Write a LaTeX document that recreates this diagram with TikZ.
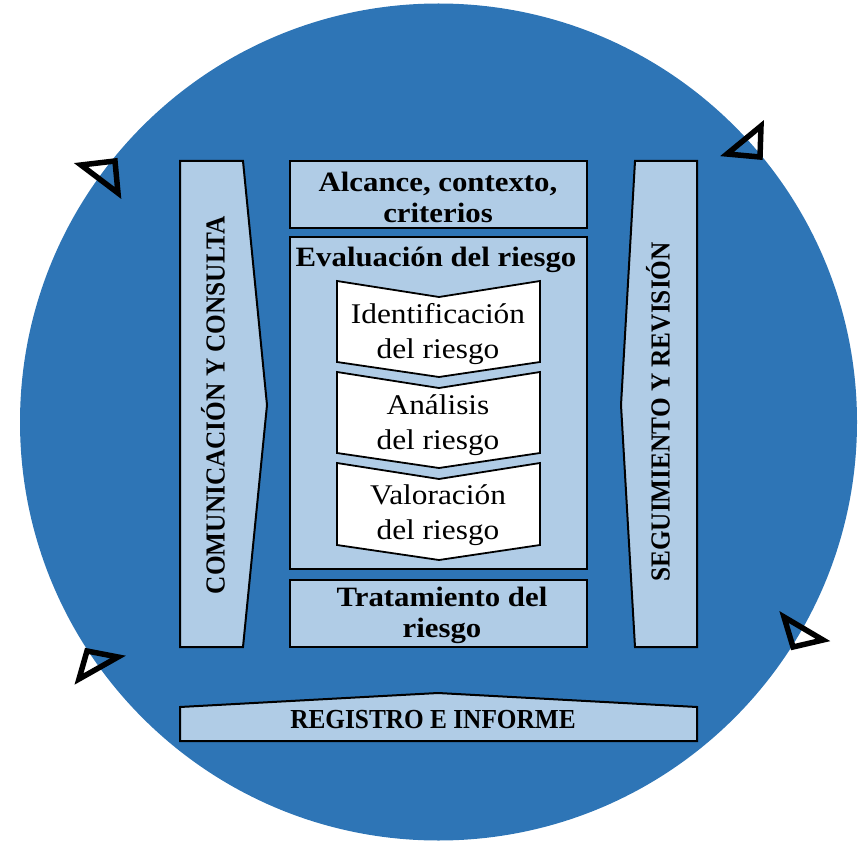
\documentclass[tikz,border=0pt]{standalone}
\usepackage{fontspec}
\setmainfont{Liberation Serif}
\newfontfamily\widefont[FakeStretch=1.1]{Liberation Serif}
\newfontfamily\narrowfont[FakeStretch=0.92]{Liberation Serif}
\definecolor{circblue}{RGB}{46,117,182}
\definecolor{lightblue}{RGB}{176,204,230}
\begin{document}
\begin{tikzpicture}[x=1pt,y=-1pt,
  box/.style={fill=lightblue,draw=black,line width=2pt,line join=miter},
  chev/.style={fill=white,draw=black,line width=1.8pt,line join=miter},
  tri/.style={draw=black,line width=5.5pt,line join=miter},
  midbold/.style={font=\widefont\bfseries\fontsize{28}{31}\selectfont,align=center,inner sep=0pt},
  midnorm/.style={font=\widefont\fontsize{28.5}{35}\selectfont,align=center,inner sep=0pt},
  capbold/.style={font=\narrowfont\bfseries\fontsize{27.5}{30}\selectfont,inner sep=0pt}]
\useasboundingbox (0,0) rectangle (867,842);
% big circle
\fill[circblue] (438.5,422) circle [radius=418.5pt];
% arrowhead triangles
\draw[tri] (81,165) -- (115,161) -- (118,193) -- cycle;
\draw[tri] (761,126) -- (727,154) -- (760,157) -- cycle;
\draw[tri] (87,651) -- (118,657) -- (79,679) -- cycle;
\draw[tri] (784,617) -- (823,640) -- (793,647) -- cycle;
% left arrow
\draw[box] (180,161) -- (243,161) -- (267,405) -- (243,647) -- (180,647) -- cycle;
% right arrow
\draw[box] (635,161) -- (697,161) -- (697,647) -- (635,647) -- (621,405) -- cycle;
% middle boxes
\draw[box] (290,161) rectangle (587,228);
\draw[box] (290,237) rectangle (587,569);
\draw[box] (290,580) rectangle (587,647);
% chevrons
\draw[chev] (337,281) -- (439,297) -- (540,281) -- (540,362) -- (439,377) -- (337,362) -- cycle;
\draw[chev] (337,372) -- (439,388) -- (540,372) -- (540,453) -- (439,468) -- (337,453) -- cycle;
\draw[chev] (337,463) -- (439,479) -- (540,463) -- (540,545) -- (439,560) -- (337,545) -- cycle;
% bottom banner
\draw[box] (180,741) -- (180,707) -- (438,693) -- (697,707) -- (697,741) -- cycle;
% texts
\node[midbold] (alcance) at (438,197) {Alcance, contexto,\\criterios};
\node[midbold,anchor=base] (evaluacion) at (436,267) {Evaluación del riesgo};
\node[midnorm] (ident) at (438,334) {Identificación\\del riesgo};
\node[midnorm] (analisis) at (438,425) {Análisis\\del riesgo};
\node[midnorm] (valoracion) at (438,515) {Valoración\\del riesgo};
\node[midbold] (tratamiento) at (442,615) {Tratamiento del\\riesgo};
\node[capbold,rotate=90] (comunicacion) at (213,405) {COMUNICACIÓN Y CONSULTA};
\node[capbold,rotate=90] (seguimiento) at (658,412) {SEGUIMIENTO Y REVISIÓN};
\node[capbold] (registro) at (433,720) {REGISTRO E INFORME};
\end{tikzpicture}
\end{document}
